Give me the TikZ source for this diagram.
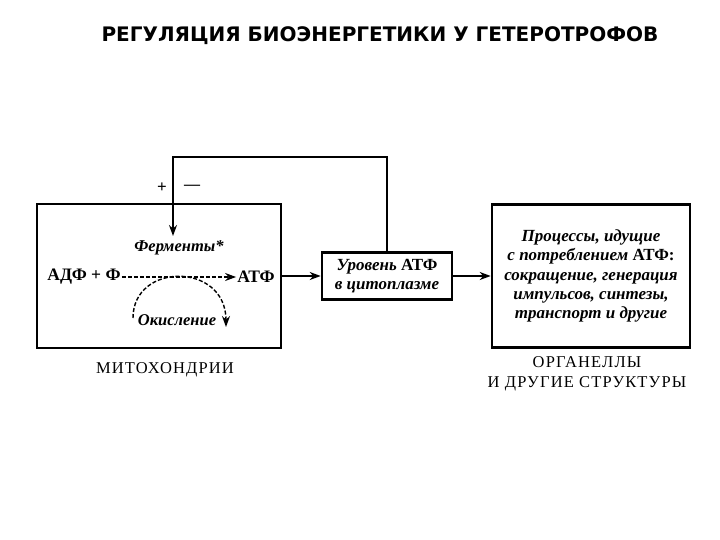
\documentclass[tikz,border=0pt]{standalone}
\usepackage{fontspec}
\setmainfont{Liberation Serif}
\newfontfamily\titlefont{DejaVu Sans}
\newfontfamily\spacedfont[LetterSpace=7]{Liberation Serif}
\usetikzlibrary{arrows.meta}
\begin{document}
\begin{tikzpicture}[x=1pt,y=-1pt,
  conn/.style={line width=2.4pt, -{Stealth[length=11pt,width=8pt]}},
  dconn/.style={line width=1.4pt, dash pattern=on 4pt off 2pt, -{Stealth[length=11pt,width=8pt]}},
  lbl/.style={inner sep=1pt, font=\fontsize{17.5}{20}\selectfont\bfseries},
  ital/.style={inner sep=1pt, font=\fontsize{16.5}{19}\selectfont\bfseries\itshape},
  captext/.style={inner sep=1pt, font=\fontsize{16.5}{19.5}\selectfont\spacedfont, align=center},
  boxtext/.style={draw, line width=2.6pt, align=center, inner sep=2pt, font=\fontsize{17}{19.3}\selectfont\bfseries}]
\useasboundingbox (0,0) rectangle (720,540);
\node[font=\fontsize{20}{24}\selectfont\titlefont\bfseries] (title) at (380,36) {РЕГУЛЯЦИЯ БИОЭНЕРГЕТИКИ У ГЕТЕРОТРОФОВ};
% boxes
\node[draw, line width=2.6pt, inner sep=0pt, minimum width=244pt, minimum height=144pt] (mito) at (159,276) {};
\node[boxtext, minimum width=130pt, minimum height=47pt] (level) at (387,276)
  {\textit{Уровень} АТФ\\ \textit{в цитоплазме}};
\node[boxtext, minimum width=198pt, minimum height=143pt] (org) at (591,276)
  {\textit{Процессы, идущие}\\ \textit{с потреблением} АТФ:\\ \textit{сокращение, генерация}\\ \textit{импульсов, синтезы,}\\ \textit{транспорт и другие}};
% inside mito
\node[lbl] (adf) at (84,277) {АДФ + Ф};
\node[lbl] (atf) at (256,277) {АТФ};
\node[ital] (ferm) at (179,248) {Ферменты*};
\node[ital] (oxid) at (177,320) {Окисление};
\coordinate (fbtip) at (173,236);
\coordinate (oxs) at (133,318);
\coordinate (oxe) at (226,327);
% labels
\node[captext] (mitolabel) at (165,370) {МИТОХОНДРИИ};
\node[captext] (orglabel) at (587,374) {ОРГАНЕЛЛЫ\\ И ДРУГИЕ СТРУКТУРЫ};
\node[font=\fontsize{17}{17}\selectfont\bfseries] (plus) at (162,188) {+};
\node[font=\fontsize{16}{16}\selectfont\bfseries] (minus) at (192,187) {—};
% connectors
\draw[dconn] (adf.east) -- (atf.west);
\draw[dconn] (oxs) .. controls (133,262) and (226,262) .. (oxe);
\draw[conn] (mito.east) -- (level.west);
\draw[conn] (level.east) -- (org.west);
\draw[conn] (level.north) |- (173,157) -- (fbtip);
\end{tikzpicture}
\end{document}
